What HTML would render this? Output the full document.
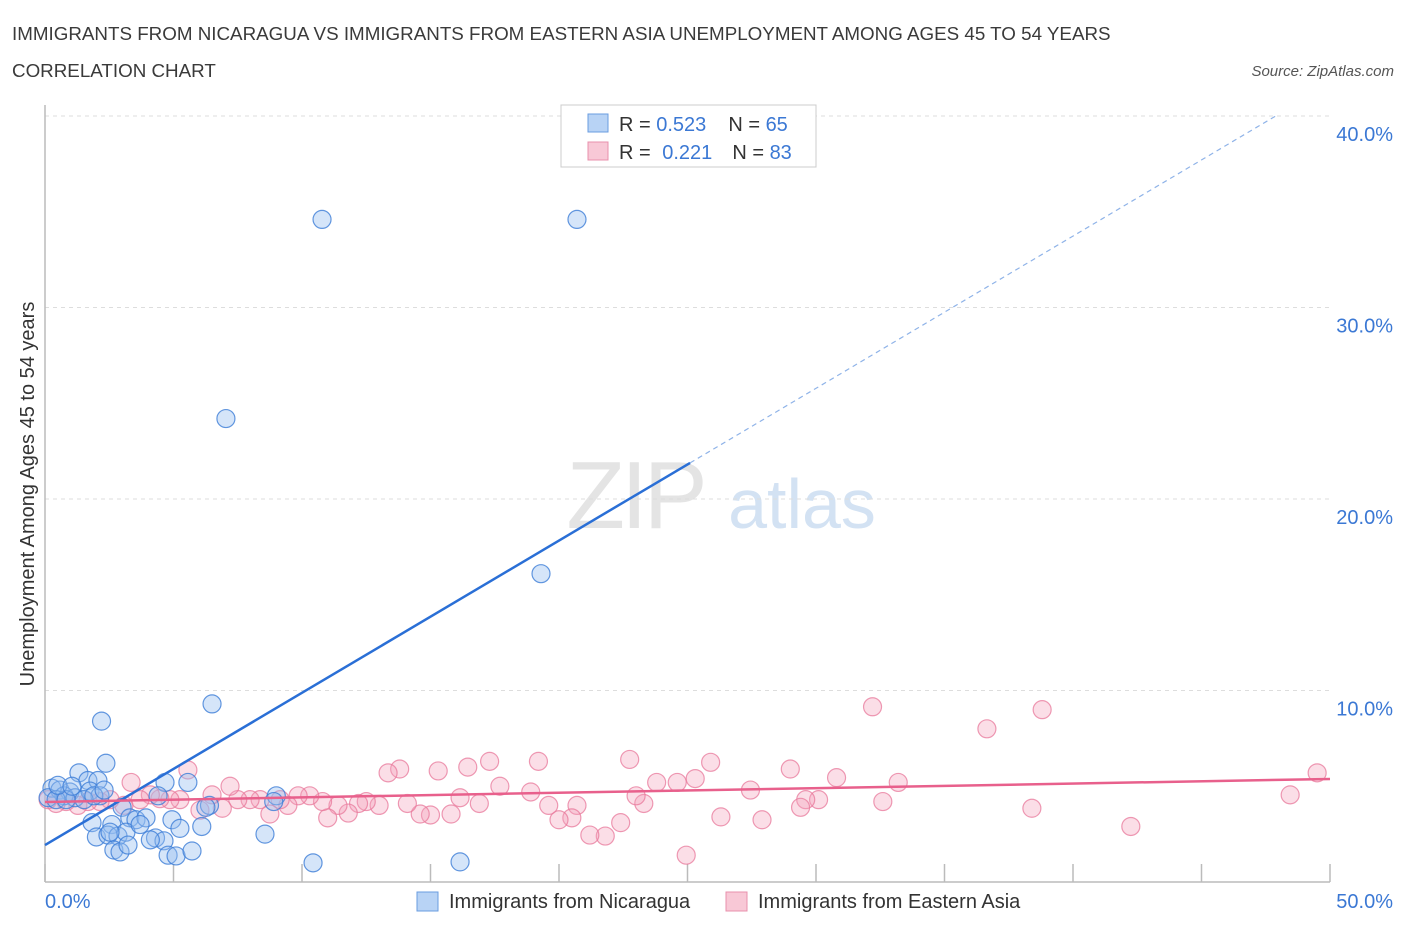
<!DOCTYPE html>
<html><head><meta charset="utf-8"><style>
body{margin:0;background:#fff;font-family:"Liberation Sans",sans-serif}
svg text{font-family:"Liberation Sans",sans-serif}
</style></head><body>
<svg id="c" width="1406" height="930" xmlns="http://www.w3.org/2000/svg">
<text x="12" y="40" font-size="18.8" fill="#3a3a3a">IMMIGRANTS FROM NICARAGUA VS IMMIGRANTS FROM EASTERN ASIA UNEMPLOYMENT AMONG AGES 45 TO 54 YEARS</text>
<text x="12" y="77" font-size="18.8" fill="#3a3a3a">CORRELATION CHART</text>
<text x="1394" y="76" font-size="15" font-style="italic" fill="#555" text-anchor="end">Source: ZipAtlas.com</text>
<g>
<text x="635" y="528" font-size="96" font-family="Liberation Serif" fill="#e4e4e4" text-anchor="middle" letter-spacing="-4">ZIP</text>
<text x="802" y="528" font-size="70" fill="#d3e2f3" text-anchor="middle">atlas</text></g>
<g id="grid"></g><g id="axes"></g><g id="marks"></g>
<text transform="translate(34,494) rotate(-90)" font-size="20" fill="#333" text-anchor="middle">Unemployment Among Ages 45 to 54 years</text>
<g>
<rect x="561" y="105" width="255" height="62" fill="#fff" stroke="#ccc"/>
<rect x="588" y="114" width="20" height="18" fill="#b8d3f5" stroke="#6a9de0"/>
<rect x="588" y="142" width="20" height="18" fill="#f8c8d6" stroke="#e890ac"/>
<text x="619" y="131" font-size="20" fill="#333">R = <tspan fill="#3b78d4">0.523</tspan><tspan dx="22">N = </tspan><tspan fill="#3b78d4">65</tspan></text>
<text x="619" y="159" font-size="20" fill="#333">R = <tspan dx="6" fill="#3b78d4">0.221</tspan><tspan dx="20">N = </tspan><tspan fill="#3b78d4">83</tspan></text>
</g>
<g>
<rect x="417" y="892" width="21" height="19" fill="#b8d3f5" stroke="#6a9de0"/>
<text x="449" y="908" font-size="20" fill="#333">Immigrants from Nicaragua</text>
<rect x="726" y="892" width="21" height="19" fill="#f8c8d6" stroke="#e890ac"/>
<text x="758" y="908" font-size="20" fill="#333">Immigrants from Eastern Asia</text>
</g>
</svg>
<script>
const yTicks=[10,20,30,40];
const yTickLabels=["10.0%","20.0%","30.0%","40.0%"];
const xTicks=[0,5,10,15,20,25,30,35,40,45,50];
const blueX=[10.78,20.7,7.04,19.3,6.5,2.2,2.37,1.32,1.67,2.06,4.67,5.56,0.27,0.58,0.97,0.74,1.17,1.75,2.14,0.12,0.43,0.82,1.52,9.0,4.4,8.9,6.4,6.26,3.0,1.83,3.3,3.54,3.93,4.94,5.25,6.1,2.6,2.0,2.45,2.84,3.15,3.7,4.3,4.63,2.68,2.92,3.23,4.79,5.1,5.72,8.56,10.43,16.15,4.1,2.53,0.5,1.05,1.9,2.3];
const blueY=[34.6,34.6,24.2,16.1,9.3,8.4,6.2,5.7,5.3,5.3,5.2,5.2,4.9,4.8,4.7,4.5,4.4,4.75,4.5,4.4,4.3,4.3,4.3,4.5,4.5,4.2,4.0,3.9,3.9,3.1,3.35,3.25,3.35,3.25,2.8,2.9,3.0,2.35,2.45,2.4,2.6,3.0,2.3,2.15,1.67,1.57,1.93,1.4,1.36,1.62,2.5,1.0,1.05,2.2,2.6,5.05,5.0,4.5,4.8];
const pinkX=[32.2,38.8,36.65,49.5,48.45,42.25,38.4,33.2,32.6,30.8,30.1,29.6,29.0,29.4,27.45,27.9,26.3,25.9,25.3,24.95,24.6,23.8,23.3,22.75,23.0,22.4,21.8,21.2,20.7,20.5,20.0,19.6,19.2,18.9,17.7,17.3,16.9,16.45,16.15,15.8,15.3,15.0,14.6,14.1,13.8,13.35,13.0,12.5,12.2,11.8,11.4,11.0,10.8,10.3,9.85,9.45,9.15,8.75,8.37,7.98,7.5,7.2,6.9,6.5,6.03,5.56,5.25,4.86,4.47,4.1,3.7,3.35,3.07,2.53,2.14,1.67,1.28,0.82,0.43,0.12];
const pinkY=[9.15,9.0,8.0,5.7,4.55,2.9,3.85,5.2,4.2,5.45,4.3,4.3,5.9,3.9,4.8,3.25,3.4,6.25,5.4,1.4,5.2,5.2,4.1,6.4,4.5,3.1,2.4,2.45,4.0,3.35,3.25,4.0,6.3,4.7,5.0,6.3,4.1,6.0,4.4,3.55,5.8,3.5,3.55,4.1,5.9,5.7,4.0,4.2,4.1,3.6,4.0,3.35,4.2,4.5,4.5,4.0,4.3,3.55,4.3,4.3,4.3,5.0,3.85,4.55,3.75,5.85,4.3,4.3,4.35,4.55,4.3,5.2,4.0,4.3,4.2,4.2,4.0,4.2,4.1,4.3];
const blueTrend=[1.93,0.795];
const pinkTrend=[4.18,0.024];
const NS="http://www.w3.org/2000/svg";
const X=v=>45+v/50*1285, Y=v=>882-v*19.15;
function mk(t,a,p){const e=document.createElementNS(NS,t);for(const k in a)e.setAttribute(k,a[k]);document.getElementById(p).appendChild(e);return e;}
yTicks.forEach((t,i)=>{
 const g=mk('line',{x1:45,x2:1330,y1:Y(t),y2:Y(t),stroke:'#ddd','stroke-dasharray':'4,4'},'grid');
 
 
 const l=mk('text',{x:1393,y:Y(t)+25,'font-size':20,fill:'#3b78d4','text-anchor':'end'},'axes');
 l.textContent=yTickLabels[i];
 
 
});
const topLine=mk('line',{x1:45,x2:1330,y1:116,y2:116,stroke:'#ddd','stroke-dasharray':'4,4'},'grid');


const ax=mk('line',{x1:45,x2:1330,y1:882,y2:882,stroke:'#bbb','stroke-width':1.5},'axes');


const ay=mk('line',{x1:45,x2:45,y1:105,y2:882,stroke:'#bbb','stroke-width':1.5},'axes');


xTicks.forEach(t=>{const e=mk('line',{x1:X(t),x2:X(t),y1:864,y2:882,stroke:'#bbb','stroke-width':1.5},'axes');
 
 });
const xl0=mk('text',{x:45,y:908,'font-size':20,fill:'#3b78d4'},'axes');xl0.textContent='0.0%';


const xl1=mk('text',{x:1393,y:908,'font-size':20,fill:'#3b78d4','text-anchor':'end'},'axes');xl1.textContent='50.0%';


pinkX.forEach((v,i)=>{const c=mk('circle',{cx:X(v),cy:Y(pinkY[i]),r:9,fill:'rgba(244,160,185,0.35)',stroke:'rgba(232,120,155,0.75)','stroke-width':1.2},'marks');
 
 });
blueX.forEach((v,i)=>{const c=mk('circle',{cx:X(v),cy:Y(blueY[i]),r:9,fill:'rgba(150,190,240,0.4)',stroke:'rgba(60,125,215,0.8)','stroke-width':1.2},'marks');
 
 });
const bEnd=(40-blueTrend[0])/blueTrend[1];
const bl=mk('line',{x1:X(0),y1:Y(blueTrend[0]),x2:X(25.1),y2:Y(blueTrend[0]+blueTrend[1]*25.1),stroke:'#2a6fd6','stroke-width':2.5},'marks');


const bd=mk('line',{x1:X(25.1),y1:Y(blueTrend[0]+blueTrend[1]*25.1),x2:X(bEnd),y2:Y(40),stroke:'#8fb3e8','stroke-width':1.2,'stroke-dasharray':'5,4'},'marks');


const pl=mk('line',{x1:X(0),y1:Y(pinkTrend[0]),x2:X(50),y2:Y(pinkTrend[0]+pinkTrend[1]*50),stroke:'#e8608c','stroke-width':2.5},'marks');


</script>
</body></html>
